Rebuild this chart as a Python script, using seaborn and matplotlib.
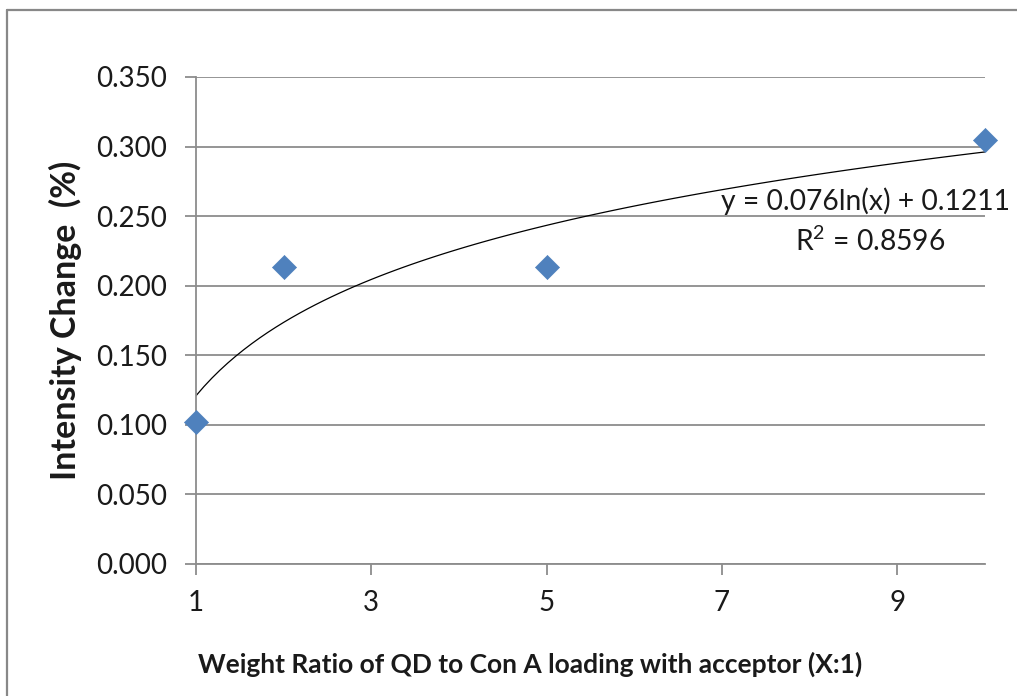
import matplotlib
matplotlib.use('Agg')
import numpy as np
import matplotlib.pyplot as plt
import pandas as pd
import seaborn as sns

# weight ratio QD : Con A, and measured intensity change
ratio = [1, 2, 5, 10]
change = [0.102, 0.2135, 0.2135, 0.305]
x_ticks = [1, 3, 5, 7, 9]
y_ticks = [0.000, 0.050, 0.100, 0.150, 0.200, 0.250, 0.300, 0.350]
eq_text = 'y = 0.076ln(x) + 0.1211'
r2_text = 'R$^2$ = 0.8596'

df = pd.DataFrame({'ratio': ratio, 'change': change})

sns.set_theme(style="white")
plt.rcParams['font.family'] = ['Lato', 'DejaVu Sans']
plt.rcParams['mathtext.fontset'] = 'custom'
plt.rcParams['mathtext.rm'] = 'Lato'

grey = '#8c8c8c'
txt = '#1a1a1a'

fig = plt.figure(figsize=(10.17, 6.96), dpi=100)
ax = fig.add_axes([0.1927, 0.1897, 0.7758, 0.6997])

# log trendline fitted from the data
sns.regplot(data=df, x='ratio', y='change', logx=True, ci=None, scatter=False,
            line_kws={'color': 'black', 'lw': 0.9}, ax=ax)
sns.scatterplot(data=df, x='ratio', y='change', marker='D', s=150,
                color='#4F81BD', edgecolor='#4F81BD', linewidth=0.5, zorder=5,
                clip_on=False, ax=ax)

ax.set_xlim(1, 10)
ax.set_ylim(0, 0.35)
ax.set_xticks(x_ticks)
ax.set_yticks(y_ticks)
ax.set_yticklabels([f'{v:.3f}' for v in y_ticks])
ax.grid(axis='y', color=grey, lw=1.3)
ax.set_axisbelow(True)
for s in ['top', 'right']:
    ax.spines[s].set_visible(False)
for s in ['left', 'bottom']:
    ax.spines[s].set_color(grey)
    ax.spines[s].set_linewidth(1.3)
ax.tick_params(axis='both', which='major', direction='out', length=8, width=1.3,
               color=grey, labelsize=20, labelcolor=txt)
ax.tick_params(axis='y', pad=13)
ax.tick_params(axis='x', pad=11, bottom=True)
ax.tick_params(axis='y', left=True)

ax.set_xlabel('Weight Ratio of QD to Con A loading with acceptor (X:1)',
              fontsize=19, fontweight='bold', color=txt)
ax.set_ylabel('Intensity Change  (%)', fontsize=24.5, fontweight='bold', color=txt)
ax.xaxis.set_label_coords(0.423, -0.180)
ax.yaxis.set_label_coords(-0.145, 0.5)

ax.text(6.99, 0.261, eq_text, fontsize=20.3, color=txt, ha='left', va='center', clip_on=False)
ax.text(8.69, 0.232, r2_text, fontsize=20.3, color=txt, ha='center', va='center', clip_on=False)

# chart area frame (only top and left edges visible in the original crop)
fig.add_artist(plt.Line2D([0.0069, 1.0], [0.9856, 0.9856], color='#888888', lw=1.6))
fig.add_artist(plt.Line2D([0.0069, 0.0069], [0.0, 0.9856], color='#888888', lw=1.6))

fig.savefig('out.png', dpi=100)
